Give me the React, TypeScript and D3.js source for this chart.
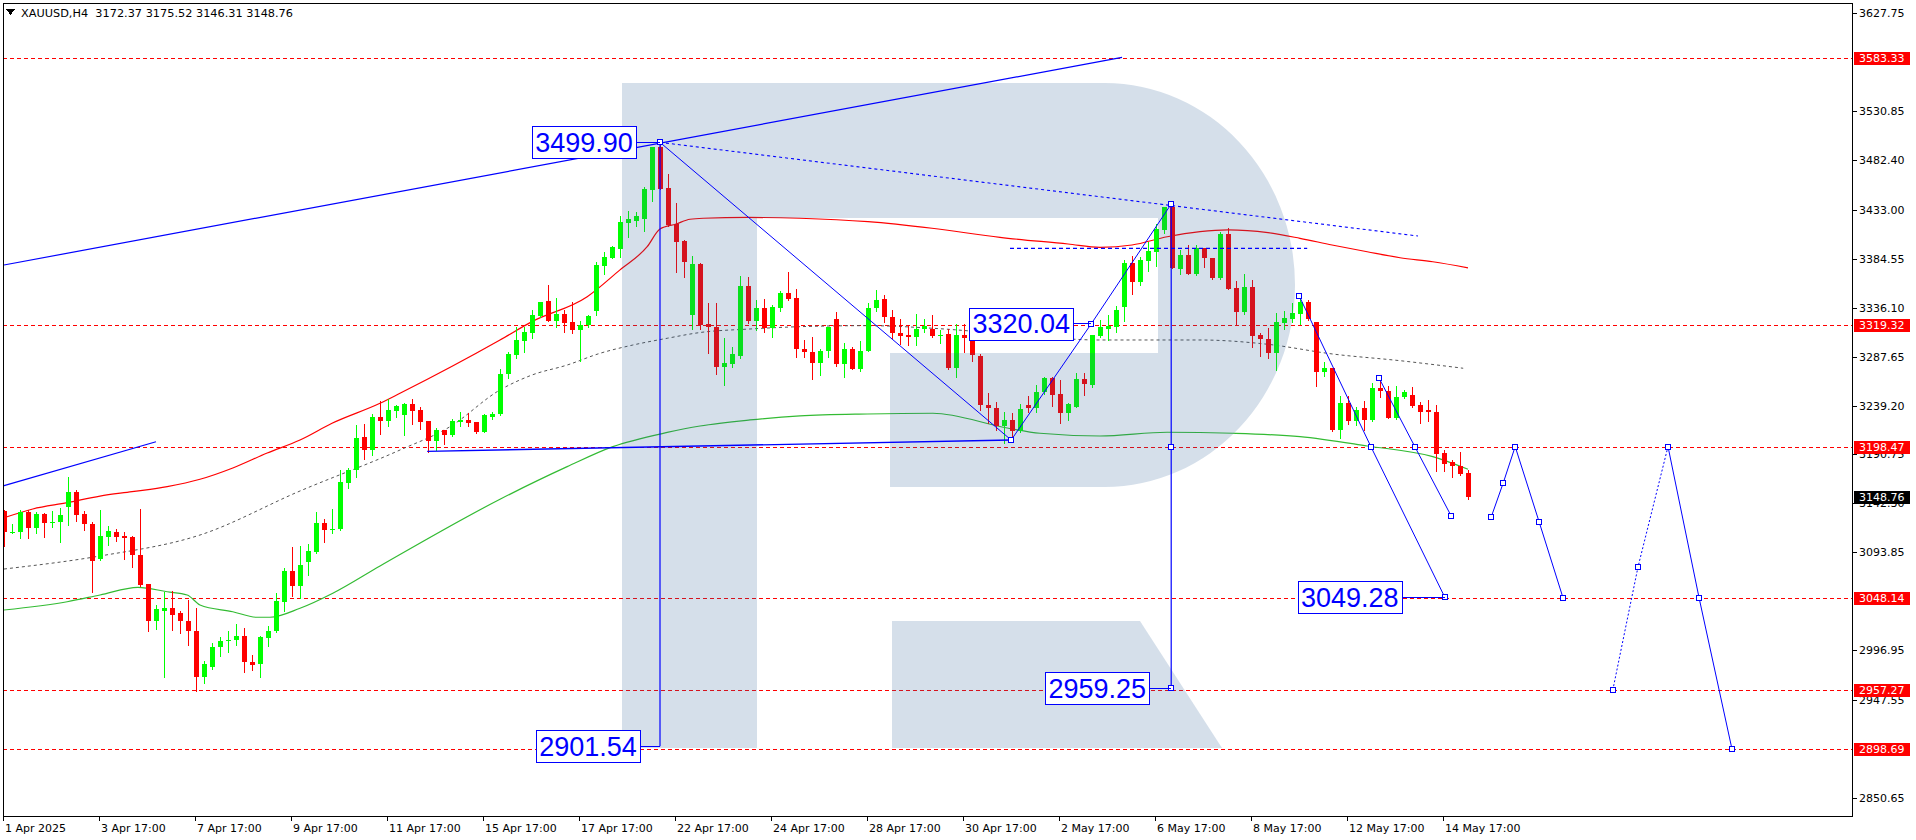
import React from "react";
import * as d3 from "d3";

// XAUUSD H4 candles, 1 Apr 2025 -> 14 May 2025
const opens = [
  3135.1, 3113.4, 3113.4, 3133.5, 3118.3, 3131.5, 3122.3, 3123.3, 3138.8, 3153.6,
  3131.5, 3121.6, 3087.0, 3109.4, 3113.7, 3110.1, 3109.1, 3091.3, 3062.5, 3025.3,
  3035.2, 3038.5, 3033.2, 3025.9, 3016.0, 2969.8, 2980.0, 3000.0, 3005.4, 3006.4,
  3011.1, 2985.3, 2983.3, 3008.4, 3015.4, 3045.0, 3075.4, 3059.9, 3083.7, 3093.6,
  3122.9, 3116.5, 3117.0, 3162.8, 3175.4, 3208.1, 3195.2, 3227.6, 3224.3, 3234.2,
  3229.3, 3240.8, 3234.9, 3224.0, 3204.5, 3215.0, 3210.1, 3223.3, 3225.0, 3223.0,
  3213.4, 3228.3, 3230.9, 3270.2, 3289.3, 3303.5, 3311.4, 3328.2, 3342.8, 3323.0,
  3329.9, 3322.3, 3314.0, 3319.0, 3332.9, 3377.7, 3385.7, 3394.3, 3420.4, 3422.3,
  3423.7, 3452.7, 3494.9, 3454.3, 3419.0, 3402.2, 3329.0, 3379.4, 3319.7, 3317.4,
  3277.8, 3280.4, 3288.4, 3357.7, 3323.4, 3335.6, 3315.8, 3335.6, 3350.5, 3345.5,
  3295.0, 3292.0, 3281.1, 3293.3, 3324.7, 3280.5, 3295.0, 3275.2, 3293.3, 3335.6,
  3344.5, 3326.7, 3310.8, 3309.2, 3306.9, 3314.8, 3314.8, 3308.2, 3310.2, 3276.2,
  3309.2, 3306.9, 3288.4, 3239.9, 3236.5, 3218.4, 3225.0, 3214.4, 3239.8, 3236.5,
  3252.2, 3266.2, 3250.7, 3231.6, 3238.1, 3265.2, 3259.6, 3308.1, 3314.7, 3317.4,
  3336.5, 3380.8, 3362.0, 3382.4, 3391.7, 3413.1, 3435.5, 3374.5, 3388.4, 3369.5,
  3395.0, 3385.0, 3365.3, 3409.1, 3355.4, 3332.2, 3356.3, 3309.2, 3305.2, 3291.7,
  3321.4, 3325.0, 3329.9, 3341.5, 3321.7, 3271.9, 3276.2, 3215.1, 3241.5, 3223.4,
  3236.5, 3225.0, 3256.4, 3253.7, 3227.3, 3247.4, 3249.7, 3239.9, 3234.9, 3233.2,
  3191.9, 3182.8, 3178.8, 3172.37,
];
const highs = [
  3136.0, 3121.9, 3135.8, 3135.8, 3133.5, 3132.5, 3134.2, 3137.8, 3168.5, 3155.6,
  3134.8, 3123.6, 3135.8, 3120.0, 3117.0, 3113.7, 3110.1, 3136.8, 3062.5, 3041.8,
  3054.9, 3055.6, 3035.8, 3046.7, 3038.5, 2986.3, 3003.8, 3009.4, 3016.0, 3022.6,
  3018.7, 2992.3, 3010.4, 3021.0, 3053.3, 3078.7, 3099.5, 3100.5, 3102.1, 3133.2,
  3126.9, 3136.8, 3175.4, 3177.0, 3220.0, 3221.0, 3230.8, 3244.0, 3245.7, 3239.5,
  3242.1, 3245.7, 3238.2, 3224.0, 3216.7, 3215.0, 3225.9, 3232.5, 3232.2, 3223.0,
  3230.6, 3233.2, 3275.4, 3292.6, 3317.4, 3317.4, 3333.9, 3342.1, 3358.6, 3345.4,
  3333.8, 3342.1, 3323.3, 3328.9, 3381.7, 3391.6, 3397.3, 3427.0, 3431.6, 3430.9,
  3456.0, 3494.9, 3499.9, 3468.5, 3439.5, 3403.2, 3387.4, 3380.8, 3340.5, 3340.5,
  3305.9, 3297.6, 3367.6, 3366.9, 3343.9, 3344.5, 3338.9, 3353.1, 3371.9, 3354.4,
  3304.2, 3306.9, 3295.0, 3316.5, 3332.0, 3301.0, 3296.7, 3303.3, 3340.6, 3353.7,
  3348.8, 3333.9, 3324.7, 3318.1, 3330.0, 3324.7, 3329.0, 3314.2, 3314.8, 3320.1,
  3320.1, 3306.9, 3290.4, 3251.3, 3243.1, 3233.2, 3231.6, 3240.8, 3248.7, 3259.6,
  3267.9, 3267.9, 3264.5, 3242.1, 3271.8, 3271.8, 3309.1, 3323.9, 3328.9, 3337.8,
  3383.4, 3387.4, 3386.7, 3401.5, 3419.0, 3435.5, 3438.8, 3393.3, 3398.2, 3398.2,
  3395.0, 3385.0, 3411.5, 3414.7, 3362.9, 3369.5, 3363.6, 3311.5, 3315.8, 3331.3,
  3333.2, 3340.5, 3345.5, 3343.8, 3321.7, 3281.8, 3276.2, 3248.8, 3248.8, 3237.5,
  3243.2, 3261.3, 3265.3, 3258.7, 3258.7, 3254.7, 3257.3, 3242.2, 3244.8, 3239.9,
  3195.3, 3185.4, 3193.3, 3175.52,
];
const lows = [
  3100.5, 3113.0, 3107.7, 3108.4, 3112.7, 3109.4, 3119.3, 3104.4, 3120.9, 3124.3,
  3116.0, 3054.0, 3086.3, 3101.1, 3105.4, 3087.0, 3079.0, 3060.6, 3015.4, 3018.0,
  2969.8, 3017.0, 3013.7, 3001.5, 2956.0, 2964.2, 2978.4, 2990.6, 2994.6, 3002.2,
  2974.8, 2977.4, 2970.1, 3000.5, 3014.4, 3035.8, 3050.7, 3048.4, 3071.5, 3092.9,
  3103.5, 3112.7, 3116.0, 3157.9, 3168.8, 3186.3, 3190.3, 3210.8, 3219.3, 3227.6,
  3209.5, 3221.0, 3216.0, 3193.6, 3195.3, 3201.2, 3209.1, 3218.4, 3218.4, 3211.8,
  3212.8, 3225.6, 3229.9, 3266.2, 3286.0, 3292.6, 3305.8, 3326.6, 3323.3, 3317.4,
  3312.4, 3311.4, 3283.7, 3317.4, 3328.9, 3369.5, 3385.0, 3386.7, 3405.8, 3417.1,
  3412.4, 3442.1, 3453.7, 3417.1, 3371.9, 3366.9, 3315.1, 3315.1, 3291.7, 3270.5,
  3259.7, 3277.1, 3286.4, 3320.7, 3314.1, 3312.5, 3306.9, 3333.3, 3343.8, 3287.1,
  3287.1, 3265.3, 3269.6, 3287.7, 3278.5, 3267.9, 3275.2, 3273.6, 3292.7, 3333.3,
  3322.4, 3305.9, 3300.3, 3299.3, 3299.3, 3312.5, 3306.9, 3301.6, 3275.2, 3267.3,
  3292.0, 3282.8, 3234.3, 3221.6, 3215.0, 3201.9, 3206.8, 3213.4, 3233.2, 3233.2,
  3250.7, 3239.1, 3222.3, 3225.0, 3238.1, 3249.7, 3257.3, 3307.4, 3304.2, 3312.4,
  3323.3, 3349.7, 3358.6, 3372.5, 3377.5, 3410.5, 3375.1, 3369.5, 3369.5, 3368.5,
  3376.1, 3364.3, 3364.3, 3354.7, 3320.0, 3330.0, 3297.6, 3288.7, 3286.7, 3274.5,
  3314.8, 3321.7, 3319.7, 3324.0, 3259.0, 3268.6, 3214.4, 3206.9, 3221.0, 3220.1,
  3215.1, 3223.4, 3247.4, 3226.7, 3225.7, 3246.4, 3237.5, 3221.7, 3224.3, 3174.8,
  3174.8, 3168.2, 3170.5, 3146.31,
];
const closes = [
  3113.4, 3114.0, 3133.5, 3118.3, 3131.5, 3122.3, 3124.0, 3130.5, 3153.6, 3130.8,
  3121.6, 3085.6, 3110.1, 3115.0, 3109.4, 3108.4, 3090.6, 3061.6, 3026.2, 3037.5,
  3038.5, 3031.9, 3025.3, 3015.4, 2969.8, 2983.0, 3000.2, 3006.1, 3007.1, 3011.1,
  2984.7, 2982.3, 3009.4, 3016.0, 3045.7, 3075.4, 3059.9, 3080.7, 3094.6, 3122.9,
  3116.0, 3117.0, 3163.5, 3175.4, 3207.1, 3195.2, 3227.9, 3224.3, 3234.9, 3238.8,
  3240.8, 3234.2, 3223.3, 3204.5, 3215.0, 3210.1, 3224.3, 3225.0, 3222.3, 3213.4,
  3229.3, 3230.9, 3270.5, 3290.3, 3304.1, 3312.4, 3328.9, 3342.1, 3323.3, 3329.9,
  3321.3, 3314.0, 3319.0, 3327.9, 3378.4, 3386.0, 3395.9, 3421.4, 3423.7, 3427.0,
  3453.7, 3494.9, 3453.7, 3418.0, 3401.6, 3381.8, 3379.4, 3319.1, 3317.4, 3277.8,
  3281.0, 3290.3, 3357.7, 3323.3, 3335.6, 3315.8, 3336.6, 3350.5, 3344.5, 3295.0,
  3292.0, 3281.1, 3293.3, 3316.5, 3280.2, 3295.0, 3275.2, 3293.3, 3335.6, 3343.9,
  3326.7, 3310.8, 3308.5, 3306.9, 3314.8, 3318.1, 3308.5, 3309.3, 3276.2, 3309.2,
  3305.9, 3289.4, 3239.9, 3236.6, 3219.0, 3225.0, 3214.4, 3235.8, 3236.5, 3252.3,
  3266.2, 3249.7, 3231.6, 3240.8, 3265.2, 3260.6, 3309.1, 3316.7, 3318.0, 3333.9,
  3380.8, 3362.0, 3383.4, 3392.3, 3413.8, 3435.5, 3375.1, 3388.4, 3369.5, 3395.0,
  3385.0, 3365.3, 3409.1, 3354.7, 3332.2, 3356.3, 3308.5, 3305.2, 3291.7, 3321.7,
  3325.7, 3330.6, 3341.5, 3325.0, 3271.9, 3276.2, 3215.1, 3241.5, 3223.4, 3234.9,
  3225.0, 3256.4, 3253.1, 3227.3, 3247.4, 3252.4, 3238.9, 3233.2, 3232.3, 3191.3,
  3181.4, 3179.5, 3171.5, 3148.76,
];

// moving averages as [bar index, price]
const maRed: [number, number][] = [
  [0, 3128.0], [3.6, 3136.7], [7.9, 3142.9], [12, 3149.5], [16, 3153.8], [20.4, 3158.8],
  [24.5, 3166.1], [28.6, 3177.3], [32.9, 3192.1], [37, 3205.0], [41, 3221.6], [47, 3241.4],
  [49.5, 3251.3], [62, 3304.1], [66, 3322.3], [72.9, 3347.0], [77, 3373.6], [80.4, 3396.5],
  [82, 3414.1], [84, 3419.0], [85.75, 3423.7], [87.4, 3424.7], [93, 3425.5], [99.5, 3424.7],
  [108, 3421.3], [116, 3414.8], [124.5, 3405.8], [133, 3399.2], [137, 3395.9], [141, 3398.2],
  [145.4, 3406.4], [149.5, 3411.4], [153, 3413.1], [158, 3410.4], [162, 3404.8], [166, 3398.2],
  [170.4, 3391.5], [174.5, 3385.6], [178.6, 3381.6], [183, 3375.6],
];
const maGray: [number, number][] = [
  [0, 3077.2], [12, 3090.1], [24.5, 3110.9], [37, 3154.5], [49.5, 3195.1], [55.75, 3218.2],
  [62, 3254.6], [66, 3269.4], [70.4, 3279.3], [74.5, 3290.9], [78.6, 3299.1], [82.9, 3305.8],
  [87, 3311.5], [93.25, 3315.0], [99.5, 3317.3], [107.9, 3318.3], [116.1, 3315.7], [124.5, 3310.7],
  [137, 3304.1], [149.5, 3304.1], [157.9, 3299.9], [166.1, 3290.2], [174.5, 3283.6], [182.4, 3276.1],
];
const maGreen: [number, number][] = [
  [0, 3036.6], [7.9, 3044.8], [12, 3051.5], [16.75, 3059.1], [20.4, 3054.7], [22.9, 3051.5],
  [24.5, 3041.6], [28.6, 3034.9], [31.6, 3029.4], [33.25, 3029.4], [37, 3038.3], [41.1, 3053.2],
  [47, 3080.2], [62, 3146.3], [70.4, 3178.6], [76.1, 3198.4], [82.9, 3212.5], [87, 3218.9],
  [93.25, 3224.9], [99.5, 3228.9], [107.9, 3230.8], [116.1, 3231.5], [125.4, 3216.9],
  [129.5, 3211.7], [137, 3209.0], [145.4, 3212.7], [153.6, 3211.7], [162, 3208.3],
  [170.4, 3199.1], [178.6, 3188.5], [183, 3176.0],
];

const levelPrices = [3583.33, 3319.32, 3198.47, 3048.14, 2957.27, 2898.69];
const lastPrice = 3148.76;

// scale labels (the ones fully under level tags are not shown)
const yTickValues = [
  3627.75, 3530.85, 3482.4, 3433.0, 3384.55, 3336.1, 3287.65, 3239.2,
  3190.75, 3142.3, 3093.85, 2996.95, 2947.55, 2850.65,
];

const xTickBars = [0, 12, 24, 36, 48, 60, 72, 84, 96, 108, 120, 132, 144, 156, 168, 180];
const xTickLabels = [
  "1 Apr 2025", "3 Apr 17:00", "7 Apr 17:00", "9 Apr 17:00", "11 Apr 17:00",
  "15 Apr 17:00", "17 Apr 17:00", "22 Apr 17:00", "24 Apr 17:00", "28 Apr 17:00",
  "30 Apr 17:00", "2 May 17:00", "6 May 17:00", "8 May 17:00", "12 May 17:00", "14 May 17:00",
];

// analyst drawings, [bar index, price]
const trendUpper: [number, number][] = [[0, 3378.4], [139.75, 3584.1]];
const trendLowerShort: [number, number][] = [[-0.1, 3159.5], [19, 3203.3]];
const trendFromPeak: [number, number][] = [[82, 3499.9], [176.75, 3407.1]];
const neckDashed: [number, number][] = [[125.75, 3394.9], [162.9, 3394.9]];
const supportLine: [number, number][] = [[52.9, 3193.8], [125.9, 3205.0]];
const zigzag: [number, number][] = [[82, 3499.9], [125.9, 3205.0], [135.9, 3320.04], [145.9, 3438.8]];
const verticalA: [number, number][] = [[82, 3499.9], [82, 2901.54]];
const verticalB: [number, number][] = [[145.9, 3438.8], [145.9, 2959.25]];
const waveA: [number, number][] = [[161.9, 3347.7], [170.9, 3197.8], [180.1, 3049.28]];
const waveB: [number, number][] = [[171.9, 3266.1], [176.4, 3197.8], [180.9, 3129.7]];
const forecast1: [number, number][] = [[185.9, 3128.7], [187.4, 3162.4], [188.9, 3198.5], [191.9, 3123.7], [194.9, 3048.1]];
const forecast2: [number, number][] = [[201.1, 2957.3], [204.25, 3079.2], [208, 3198.5]];
const forecast3: [number, number][] = [[208, 3198.5], [211.9, 3048.1], [216, 2898.7]];
const squarePoints: [number, number][] = [
  [82, 3499.9], [125.9, 3205.0], [135.9, 3320.04], [145.9, 3438.8], [145.9, 3198.47], [145.9, 2959.25],
  ...waveA, ...waveB, ...forecast1, ...forecast2.slice(0, 2), ...forecast3,
];

const priceLabels = [
  { text: "3499.90", at: [82, 3499.9] as [number, number], gap: 24 },
  { text: "3320.04", at: [135.9, 3320.04] as [number, number], gap: 18 },
  { text: "2959.25", at: [145.9, 2959.25] as [number, number], gap: 22 },
  { text: "2901.54", at: [82, 2901.54] as [number, number], gap: 20 },
  { text: "3049.28", at: [180.1, 3049.28] as [number, number], gap: 43 },
];

const W = 1916;
const H = 840;
const frame = { left: 3, top: 3, right: 1852, bottom: 816 };

const BULL = "#00ff00";
const BEAR = "#ff0000";
const BLUE = "#0000ff";

export default function App() {
  React.useEffect(() => {
    document.body.style.margin = "0";
  }, []);

  const x = d3.scaleLinear().domain([0, 1]).range([4, 12]);
  const y = d3.scaleLinear().domain([2850.65, 3627.75]).range([797.7, 13.3]);

  const line = d3
    .line<[number, number]>()
    .x((d) => x(d[0]))
    .y((d) => y(d[1]));
  const maLine = d3
    .line<[number, number]>()
    .x((d) => x(d[0]))
    .y((d) => y(d[1]))
    .curve(d3.curveMonotoneX);

  const candles = opens.map((o, i) => {
    const c = closes[i];
    const cx = Math.round(x(i));
    const top = Math.round(y(Math.max(o, c)));
    const bot = Math.round(y(Math.min(o, c)));
    const color = c >= o ? BULL : BEAR;
    return (
      <g key={i}>
        <line
          x1={cx + 0.5}
          x2={cx + 0.5}
          y1={Math.round(y(highs[i]))}
          y2={Math.round(y(lows[i])) + 1}
          stroke={color}
        />
        <rect x={cx - 2} y={top} width={5} height={Math.max(1, bot - top)} fill={color} />
      </g>
    );
  });

  return (
    <svg
      width={W}
      height={H}
      style={{ position: "absolute", left: 0, top: 0, background: "#fff" }}
      fontFamily="DejaVu Sans, sans-serif"
      shapeRendering="crispEdges"
    >
      <defs>
        <clipPath id="plot">
          <rect x={frame.left} y={frame.top} width={frame.right - frame.left} height={frame.bottom - frame.top} />
        </clipPath>
      </defs>
      <rect width={W} height={H} fill="#fff" />

      <g clipPath="url(#plot)">
        {/* price levels */}
        {levelPrices.map((p) => (
          <line
            key={p}
            x1={frame.left}
            x2={frame.right}
            y1={Math.round(y(p)) + 0.5}
            y2={Math.round(y(p)) + 0.5}
            stroke="#ff0000"
            strokeDasharray="4,3"
          />
        ))}

        {/* moving averages */}
        <path d={maLine(maGray) ?? ""} fill="none" stroke="#555" strokeDasharray="3,3" shapeRendering="auto" />
        <path d={maLine(maGreen) ?? ""} fill="none" stroke="#33bb33" strokeWidth={1.2} shapeRendering="auto" />
        <path d={maLine(maRed) ?? ""} fill="none" stroke="#ff0000" strokeWidth={1.2} shapeRendering="auto" />

        {candles}

        {/* watermark logo */}
        <g fill="rgba(45,95,150,0.2)" shapeRendering="auto">
          <path d="M622,83 H757 V748 H622 Z" />
          <path d="M757,83 H1105 A190,202 0 0 1 1105,487 H890 V353 H1158 V218 H757 Z" />
          <path d="M892,621 H1140 L1222,748 H892 Z" />
        </g>

        {/* drawings */}
        <g fill="none" stroke={BLUE} shapeRendering="auto">
          <path d={line(trendUpper) ?? ""} strokeWidth={1.2} />
          <path d={line(trendLowerShort) ?? ""} strokeWidth={1.2} />
          <path d={line(trendFromPeak) ?? ""} strokeWidth={1.1} strokeDasharray="3,3" />
          <path d={line(neckDashed) ?? ""} strokeWidth={1.1} strokeDasharray="4,3" />
          <path d={line(supportLine) ?? ""} strokeWidth={1.4} />
          <path d={line(zigzag) ?? ""} strokeWidth={1} />
          <path d={line(verticalA) ?? ""} strokeWidth={1.2} />
          <path d={line(verticalB) ?? ""} strokeWidth={1.2} />
          <path d={line(waveA) ?? ""} strokeWidth={1} />
          <path d={line(waveB) ?? ""} strokeWidth={1} />
          <path d={line(forecast1) ?? ""} strokeWidth={1} />
          <path d={line(forecast2) ?? ""} strokeWidth={1} strokeDasharray="2,2" />
          <path d={line(forecast3) ?? ""} strokeWidth={1} />
        </g>
        {squarePoints.map((d, i) => (
          <rect
            key={i}
            x={Math.round(x(d[0])) - 2.5}
            y={Math.round(y(d[1])) - 2.5}
            width={5}
            height={5}
            fill="#fff"
            stroke={BLUE}
          />
        ))}

        {priceLabels.map((l) => {
          const ax = x(l.at[0]);
          const ay = y(l.at[1]);
          const bw = 104;
          const bh = 32;
          const bx = ax - l.gap - bw;
          const by = ay - bh / 2;
          return (
            <g key={l.text}>
              <line x1={bx + bw} x2={ax} y1={ay} y2={ay} stroke={BLUE} />
              <rect x={bx + 0.5} y={by + 0.5} width={bw} height={bh} fill="#fff" stroke={BLUE} />
              <text
                x={bx + bw / 2}
                y={ay + 9.5}
                textAnchor="middle"
                fontFamily="Liberation Sans, Arial, sans-serif"
                fontSize={27}
                fill={BLUE}
                shapeRendering="auto"
              >
                {l.text}
              </text>
            </g>
          );
        })}
      </g>

      {/* frame */}
      <rect
        x={frame.left + 0.5}
        y={frame.top + 0.5}
        width={frame.right - frame.left}
        height={frame.bottom - frame.top}
        fill="none"
        stroke="#000"
      />

      {/* header */}
      <path d="M6,9 L15,9 L10.5,15 Z" fill="#000" />
      <text x={21} y={17} fontSize={11.3} fill="#000">
        XAUUSD,H4{"\u00a0\u00a0"}3172.37 3175.52 3146.31 3148.76
      </text>

      {/* price axis */}
      {yTickValues.map((v) => {
        const ty = Math.round(y(v));
        return (
          <g key={v}>
            <line x1={frame.right} x2={frame.right + 5} y1={ty + 0.5} y2={ty + 0.5} stroke="#000" />
            <text x={frame.right + 7} y={ty + 4} fontSize={11} fill="#000">
              {v.toFixed(2)}
            </text>
          </g>
        );
      })}
      {levelPrices.map((p) => {
        const ty = Math.round(y(p));
        return (
          <g key={p}>
            <rect x={frame.right + 2} y={ty - 6} width={56} height={13} fill="#ff0000" />
            <text x={frame.right + 7} y={ty + 4} fontSize={11} fill="#fff">
              {p.toFixed(2)}
            </text>
          </g>
        );
      })}
      <g>
        <rect x={frame.right + 2} y={Math.round(y(lastPrice)) - 6} width={56} height={13} fill="#000" />
        <text x={frame.right + 7} y={Math.round(y(lastPrice)) + 4} fontSize={11} fill="#fff">
          {lastPrice.toFixed(2)}
        </text>
      </g>

      {/* time axis */}
      {xTickBars.map((b, k) => {
        const tx = Math.round(x(b)) - 1;
        return (
          <g key={b}>
            <line x1={tx + 0.5} x2={tx + 0.5} y1={frame.bottom} y2={frame.bottom + 5} stroke="#000" />
            <text x={tx + 2} y={frame.bottom + 16} fontSize={11} fill="#000">
              {xTickLabels[k]}
            </text>
          </g>
        );
      })}
    </svg>
  );
}
